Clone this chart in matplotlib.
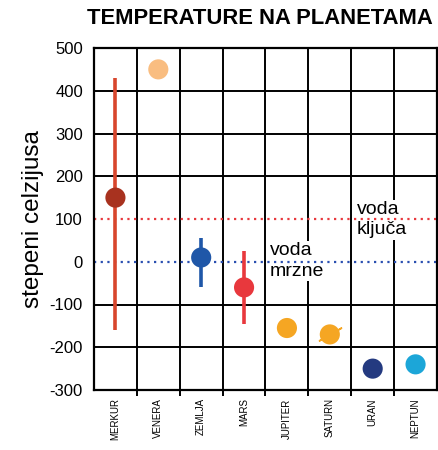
import matplotlib
matplotlib.use("Agg")
import matplotlib.pyplot as plt

plt.rcParams['font.family'] = ['Liberation Sans', 'DejaVu Sans']

# data
planets = ["MERKUR", "VENERA", "ZEMLJA", "MARS", "JUPITER", "SATURN", "URAN", "NEPTUN"]
temps = [150, 450, 10, -60, -155, -170, -250, -240]
t_max = [430, None, 55, 25, None, None, None, None]
t_min = [-160, None, -60, -145, None, None, None, None]
dot_colors = ["#a8321f", "#f9bd80", "#1f57a8", "#e8383d", "#f5a623", "#f5a623", "#243a80", "#1ca6d8"]
bar_colors = ["#d8462d", None, "#1f57a8", "#e8383d", None, None, None, None]
yticks = [-300, -200, -100, 0, 100, 200, 300, 400, 500]
freeze = 0
boil = 100

fig = plt.figure(figsize=(4.39, 4.5), dpi=100)
ax = fig.add_axes([94/439, 60/450, 343/439, 342/450])

x = list(range(len(planets)))

# grid: vertical column borders and horizontal lines (except at 0 and 100)
for b in range(len(planets) - 1):
    ax.axvline(b + 0.5, color="black", lw=1.4, zorder=1)
for v in yticks:
    if v not in (freeze, boil):
        ax.axhline(v, color="black", lw=1.4, zorder=1)

ax.axhline(boil, color="#e8383d", lw=1.6, ls=(0, (1, 2)), zorder=4)
ax.axhline(freeze, color="#2a4fb0", lw=1.6, ls=(0, (1, 2)), zorder=4)

# range bars
for i in x:
    if t_max[i] is not None:
        ax.plot([i, i], [t_min[i], t_max[i]], color=bar_colors[i], lw=2.6,
                solid_capstyle="butt", zorder=5)

ax.scatter(x, temps, s=210, c=dot_colors, zorder=6, linewidths=0)
# saturn ring
si = planets.index("SATURN")
ax.scatter([si], [temps[si]], marker=(2, 2, -60), s=330, c=dot_colors[si],
           linewidths=1.2, zorder=6)

ax.text(3.6, 2, "voda\nmrzne", fontsize=14, ha="left", va="center", linespacing=1.25,
        bbox=dict(facecolor="white", edgecolor="none", pad=1), zorder=3)
ax.text(5.63, 98, "voda\nključa", fontsize=14, ha="left", va="center", linespacing=1.25,
        bbox=dict(facecolor="white", edgecolor="none", pad=1), zorder=3)

ax.set_xlim(-0.5, len(planets) - 0.5)
ax.set_ylim(-300, 500)
ax.set_yticks(yticks)
ax.set_yticklabels([str(v) for v in yticks], fontsize=12)
ax.set_xticks(x)
ax.set_xticklabels(planets, rotation=90, fontsize=7, va="top")
ax.set_xticks([b + 0.5 for b in range(len(planets) - 1)], minor=True)
ax.tick_params(axis="x", which="major", length=0, pad=6)
ax.tick_params(axis="x", which="minor", length=4, width=1.4)
ax.tick_params(axis="y", length=0, pad=8)
for s in ax.spines.values():
    s.set_linewidth(1.6)
    s.set_zorder(7)

ax.set_ylabel("stepeni celzijusa", fontsize=17.5, labelpad=4)
fig.text(0.593, 0.96, "TEMPERATURE NA PLANETAMA", fontsize=15.8, fontweight="bold",
         ha="center", va="center")

fig.savefig("out.png", dpi=100)
